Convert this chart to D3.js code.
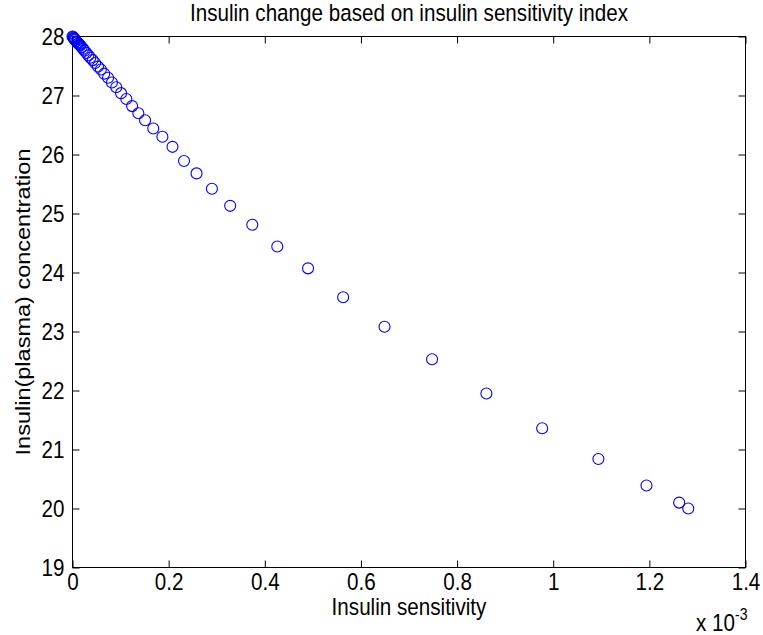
<!DOCTYPE html>
<html>
<head>
<meta charset="utf-8">
<script src="https://cdn.jsdelivr.net/npm/d3@7"></script>
<style>
  body { margin: 0; background: #fff; }
  svg { display: block; font-family: "Liberation Sans", Arial, Helvetica, sans-serif; }
  .axis text { font-size: 23.5px; fill: #000; }
  .axis line { stroke: #000; }
</style>
</head>
<body>
<div class="chart"></div>
<script>
// insulin sensitivity (x 1e-3) and plasma insulin
var sensitivity = [
  0.000, 0.001, 0.002, 0.003, 0.004, 0.005, 0.006, 0.008, 0.010, 0.012,
  0.014, 0.016, 0.019, 0.022, 0.025, 0.029, 0.033, 0.037, 0.042, 0.047,
  0.053, 0.059, 0.066, 0.074, 0.082, 0.091, 0.101, 0.112, 0.124, 0.137,
  0.151, 0.168, 0.187, 0.208, 0.232, 0.258, 0.290, 0.328, 0.374, 0.426,
  0.490, 0.563, 0.649, 0.748, 0.861, 0.977, 1.094, 1.194, 1.262, 1.281
];
var insulin = [
  28.00, 27.99, 27.98, 27.97, 27.96, 27.95, 27.94, 27.92, 27.90, 27.88,
  27.87, 27.85, 27.82, 27.79, 27.76, 27.72, 27.68, 27.64, 27.60, 27.55,
  27.49, 27.44, 27.37, 27.30, 27.22, 27.14, 27.04, 26.94, 26.82, 26.70,
  26.58, 26.44, 26.30, 26.13, 25.89, 25.68, 25.42, 25.13, 24.81, 24.44,
  24.07, 23.58, 23.08, 22.53, 21.95, 21.36, 20.84, 20.39, 20.10, 20.00
];
var xTicks = [0, 0.2, 0.4, 0.6, 0.8, 1, 1.2, 1.4];
var yTicks = [19, 20, 21, 22, 23, 24, 25, 26, 27, 28];

function init() {
  var width = 763,
      height = 635,
      left = 72.5,
      right = 745.5,
      top = 36.5,
      bottom = 567.5,
      tick = 7,
      squeeze = 0.878,   // the text in the picture is a bit narrow
      fontSize = 23.5;

  var svg = d3.select('.chart')
    .append('svg')
      .attr('width', width)
      .attr('height', height);

  var x = d3.scaleLinear().domain([0, 1.4]).range([left, right]);
  var y = d3.scaleLinear().domain([19, 28]).range([bottom, top]);

  var fmt = function(d) { return String(+d.toFixed(1)); };

  function narrow(sel) {
    sel.each(function() {
      var t = d3.select(this);
      var tx = +t.attr('x') || 0;
      t.attr('x', tx / squeeze)
       .attr('transform', 'scale(' + squeeze + ',1)');
    });
  }

  svg.append('g')
      .attr('class', 'axis')
      .attr('transform', 'translate(0,' + bottom + ')')
      .call(d3.axisBottom(x).tickValues(xTicks).tickFormat(fmt)
        .tickSize(-tick).tickPadding(6))
      .call(function(g) { g.select('.domain').remove(); })
      .call(function(g) { g.selectAll('text').call(narrow); });

  svg.append('g')
      .attr('class', 'axis')
      .attr('transform', 'translate(0,' + top + ')')
      .call(d3.axisTop(x).tickValues(xTicks).tickFormat('').tickSize(-tick))
      .call(function(g) { g.select('.domain').remove(); });

  svg.append('g')
      .attr('class', 'axis')
      .attr('transform', 'translate(' + left + ',0)')
      .call(d3.axisLeft(y).tickValues(yTicks).tickFormat(d3.format('d'))
        .tickSize(-tick).tickPadding(8))
      .call(function(g) { g.select('.domain').remove(); })
      .call(function(g) { g.selectAll('text').call(narrow); });

  svg.append('g')
      .attr('class', 'axis')
      .attr('transform', 'translate(' + right + ',0)')
      .call(d3.axisRight(y).tickValues(yTicks).tickFormat('').tickSize(-tick))
      .call(function(g) { g.select('.domain').remove(); });

  svg.append('rect')
      .attr('x', left)
      .attr('y', top)
      .attr('width', right - left)
      .attr('height', bottom - top)
      .attr('fill', 'none')
      .attr('stroke', '#000');

  svg.append('g')
    .selectAll('circle')
    .data(sensitivity)
    .enter().append('circle')
      .attr('cx', function(d) { return x(d); })
      .attr('cy', function(d, i) { return y(insulin[i]); })
      .attr('r', 5.5)
      .attr('fill', 'none')
      .attr('stroke', '#0000ff')
      .attr('stroke-width', 1.1);

  function label(tx, ty, rot, txt) {
    return svg.append('text')
        .attr('transform', 'translate(' + tx + ',' + ty + ') scale(' + squeeze + ',1)' +
              (rot ? ' rotate(' + rot + ')' : ''))
        .attr('text-anchor', 'middle')
        .style('font-size', fontSize + 'px')
        .text(txt);
  }

  label((left + right) / 2, 21, 0, 'Insulin change based on insulin sensitivity index');
  label((left + right) / 2, 615, 0, 'Insulin sensitivity');
  label(30, (top + bottom) / 2, -90, 'Insulin(plasma) concentration');

  var exp = svg.append('text')
      .attr('transform', 'translate(696,631) scale(' + squeeze + ',1)')
      .style('font-size', fontSize + 'px');
  exp.append('tspan').text('x 10');
  exp.append('tspan')
      .attr('dy', -11)
      .style('font-size', '16px')
      .text('-3');
}

init();
</script>
</body>
</html>
